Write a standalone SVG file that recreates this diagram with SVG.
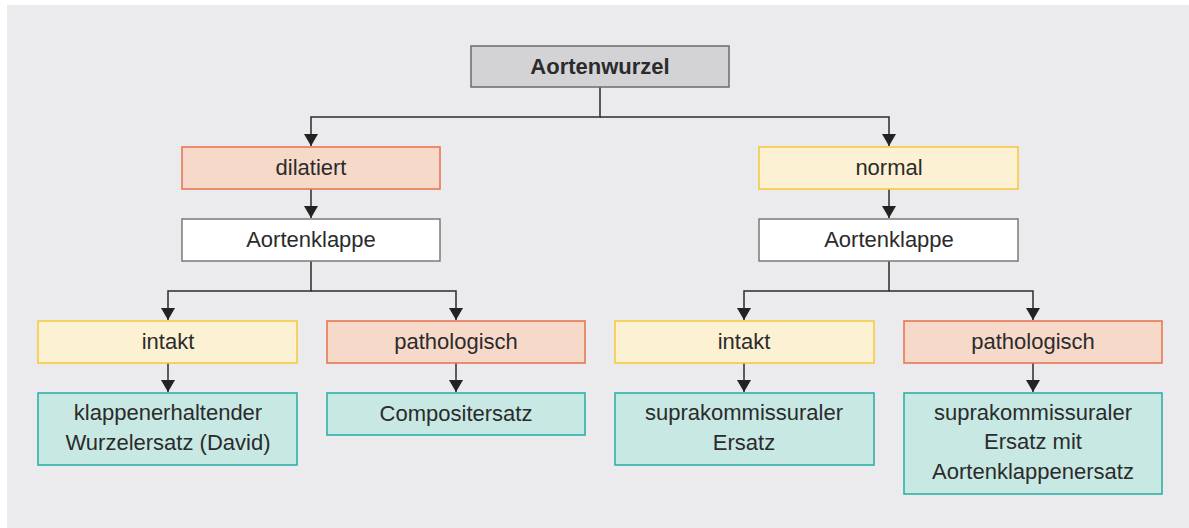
<svg xmlns="http://www.w3.org/2000/svg" width="1189" height="528" viewBox="0 0 1189 528">
<defs>
<style>
.t{font-family:"Liberation Sans",Arial,sans-serif;font-size:22px;fill:#2b2b2b;text-anchor:middle}
.b{font-weight:bold}
.n rect{stroke-width:1.5}
.grey{fill:#d3d3d5;stroke:#6b6b6b}
.white{fill:#ffffff;stroke:#7a7a7a}
.or{fill:#f7d9ca;stroke:#e6704c}
.ye{fill:#fdf1d3;stroke:#f6c735}
.te{fill:#c8e8e4;stroke:#25ada2}
.c{fill:none;stroke:#2b2b2b;stroke-width:1.5}
</style>
<marker id="ah" markerUnits="userSpaceOnUse" markerWidth="13" markerHeight="15" viewBox="0 0 13 15" refX="12" refY="7.5" orient="auto">
<path d="M0,0.5 L12,7.5 L0,14.5 Z" fill="#222"/>
</marker>
</defs>
<rect x="7" y="5" width="1182" height="523" fill="#ebebed"/>
<g id="connectors">
<path class="c" d="M600,87 V117 H311 V146" marker-end="url(#ah)"/>
<path class="c" d="M600,117 H889 V146" marker-end="url(#ah)"/>
<path class="c" d="M311,189 V218" marker-end="url(#ah)"/>
<path class="c" d="M889,189 V218" marker-end="url(#ah)"/>
<path class="c" d="M311,261 V291 H168 V320" marker-end="url(#ah)"/>
<path class="c" d="M311,291 H456 V320" marker-end="url(#ah)"/>
<path class="c" d="M889,261 V291 H744 V320" marker-end="url(#ah)"/>
<path class="c" d="M889,291 H1033 V320" marker-end="url(#ah)"/>
<path class="c" d="M168,363 V392" marker-end="url(#ah)"/>
<path class="c" d="M456,363 V392" marker-end="url(#ah)"/>
<path class="c" d="M744,363 V392" marker-end="url(#ah)"/>
<path class="c" d="M1033,363 V392" marker-end="url(#ah)"/>
</g>
<g id="n-aortenwurzel" class="n"><rect class="grey" x="471" y="46" width="258" height="41"/><text class="t b" x="600" y="74">Aortenwurzel</text></g>
<g id="n-dilatiert" class="n"><rect class="or" x="182" y="147" width="258" height="42"/><text class="t" x="311" y="175">dilatiert</text></g>
<g id="n-normal" class="n"><rect class="ye" x="759" y="147" width="259" height="42"/><text class="t" x="889" y="175">normal</text></g>
<g id="n-klappe-l" class="n"><rect class="white" x="182" y="219" width="258" height="42"/><text class="t" x="311" y="247">Aortenklappe</text></g>
<g id="n-klappe-r" class="n"><rect class="white" x="759" y="219" width="259" height="42"/><text class="t" x="889" y="247">Aortenklappe</text></g>
<g id="n-intakt-l" class="n"><rect class="ye" x="38" y="321" width="259" height="42"/><text class="t" x="168" y="349">intakt</text></g>
<g id="n-path-l" class="n"><rect class="or" x="327" y="321" width="258" height="42"/><text class="t" x="456" y="349">pathologisch</text></g>
<g id="n-intakt-r" class="n"><rect class="ye" x="615" y="321" width="259" height="42"/><text class="t" x="744" y="349">intakt</text></g>
<g id="n-path-r" class="n"><rect class="or" x="904" y="321" width="258" height="42"/><text class="t" x="1033" y="349">pathologisch</text></g>
<g id="n-david" class="n"><rect class="te" x="38" y="393" width="259" height="72"/><text class="t" x="168" y="420">klappenerhaltender</text><text class="t" x="168" y="450">Wurzelersatz (David)</text></g>
<g id="n-composit" class="n"><rect class="te" x="327" y="393" width="258" height="42"/><text class="t" x="456" y="421">Compositersatz</text></g>
<g id="n-supra" class="n"><rect class="te" x="615" y="393" width="259" height="72"/><text class="t" x="744" y="420">suprakommissuraler</text><text class="t" x="744" y="450">Ersatz</text></g>
<g id="n-supra-akr" class="n"><rect class="te" x="904" y="393" width="258" height="101"/><text class="t" x="1033" y="420">suprakommissuraler</text><text class="t" x="1033" y="449">Ersatz mit</text><text class="t" x="1033" y="479">Aortenklappenersatz</text></g>
</svg>
